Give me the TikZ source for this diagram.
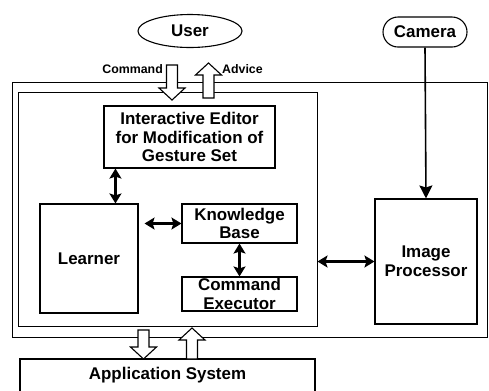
\documentclass[tikz,border=0pt]{standalone}
\usepackage{fontspec}
\setmainfont{Liberation Sans}
\usetikzlibrary{arrows.meta,shapes.geometric,calc}

\tikzset{
  lbl/.style={font=\bfseries\fontsize{17}{18.7}\selectfont, align=center, inner sep=0pt},
  small/.style={font=\bfseries\fontsize{12.4}{14}\selectfont, inner sep=0pt},
  box/.style={lbl, draw, line width=1.1bp},
  frame/.style={draw, line width=1bp, inner sep=0pt},
  dbl/.style={line width=2.6bp, {Stealth[length=10bp,width=12bp,inset=2bp]}-{Stealth[length=10bp,width=12bp,inset=2bp]}},
  feed/.style={line width=1.6bp, -{Stealth[length=13bp,width=13bp,inset=2bp]}},
  pics/hollowarrow/.style={code={
    \draw[line width=1.1bp, fill=white, line join=miter]
      (-5.5,0) -- (-5.5,#1-12) -- (-13,#1-12) -- (0,#1) -- (13,#1-12) -- (5.5,#1-12) -- (5.5,0) -- cycle;}}
}

\begin{document}
\begin{tikzpicture}[x=1bp,y=-1bp]
\useasboundingbox (0,0) rectangle (489,390);

% external actors
\node[lbl, draw, line width=1.1bp, ellipse, minimum width=104bp, minimum height=33bp] (user) at (190,31) {User};
\node[lbl, draw, line width=1.1bp, rounded corners=15bp, minimum width=84bp, minimum height=30bp] (camera) at (425,32) {Camera};

% system frames
\node[frame, minimum width=474bp, minimum height=255bp] (outer) at (250,209.5) {};
\node[frame, minimum width=298bp, minimum height=234bp] (inner) at (168,209) {};

% modules
\node[box, minimum width=171bp, minimum height=62bp] (editor) at (189.5,137) {Interactive Editor\\for Modification of\\Gesture Set};
\node[box, minimum width=98bp, minimum height=109bp] (learner) at (89,258.5) {Learner};
\node[box, minimum width=115bp, minimum height=39bp] (kb) at (239.5,223.5) {Knowledge\\Base};
\node[box, minimum width=115bp, minimum height=34bp] (ce) at (239.5,294) {Command\\Executor};
\node[box, minimum width=102bp, minimum height=125bp] (ip) at (426,261.5) {Image\\Processor};
\node[box, minimum width=295bp, minimum height=36bp] (app) at (167.5,377) {};
\node[lbl] (apptext) at (167.5,375) {Application System};

% user interaction
\pic at (172,65) {hollowarrow=35};
\pic[rotate=180] at (208.5,98) {hollowarrow=35};
\node[small, anchor=base east] (cmd) at (163,73) {Command};
\node[small, anchor=base west] (adv) at (222,73) {Advice};

% application interface
\pic at (143.5,330) {hollowarrow=29};
\pic[rotate=180] at (192,359) {hollowarrow=31};

% internal links
\draw[dbl] ([xshift=12bp]editor.south west) -- ([xshift=12bp]editor.south west |- learner.north);
\draw[dbl] ([xshift=6bp]learner.east |- kb.west) -- (kb.west);
\draw[dbl] (kb.south) -- (ce.north);
\draw[dbl] (inner.east |- ip.west) -- (ip.west);
\draw[feed] (camera.south) -- (ip.north);
\end{tikzpicture}
\end{document}
